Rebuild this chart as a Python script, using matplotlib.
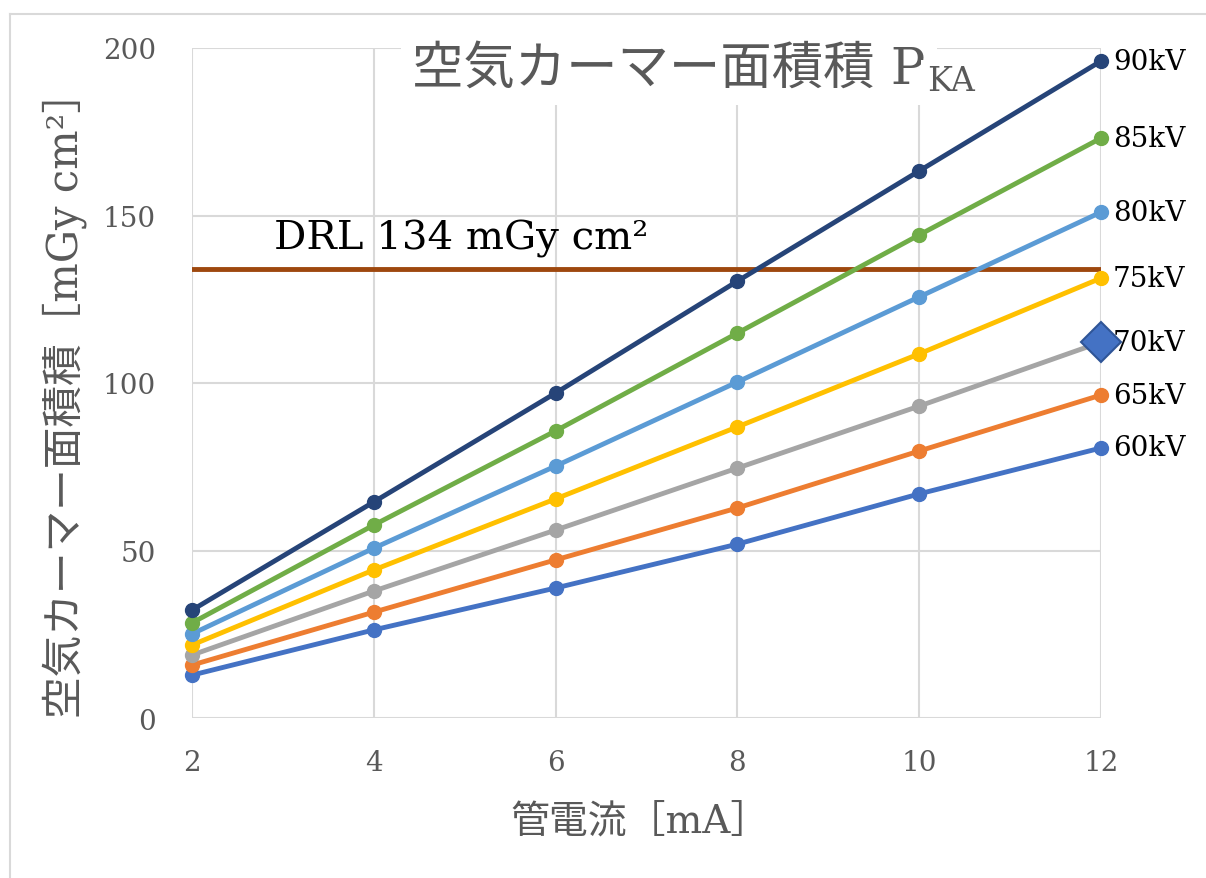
import numpy as np
import matplotlib.pyplot as plt
from matplotlib.lines import Line2D
from matplotlib.text import Annotation

plt.rcParams['font.family'] = ['DejaVu Serif', 'Noto Sans CJK JP']

current_mA = [2, 4, 6, 8, 10, 12]
kv_labels = ['60kV', '65kV', '70kV', '75kV', '80kV', '85kV', '90kV']
pka_60 = [12.8, 26.3, 38.8, 51.9, 66.9, 80.6]
pka_65 = [15.8, 31.6, 47.2, 62.7, 79.7, 96.4]
pka_70 = [18.8, 37.9, 56.1, 74.6, 93.1, 112.2]
pka_75 = [21.8, 44.2, 65.4, 86.9, 108.7, 131.3]
pka_80 = [25.1, 50.7, 75.2, 100.3, 125.7, 151.0]
pka_85 = [28.4, 57.6, 85.7, 114.9, 144.2, 173.1]
pka_90 = [32.2, 64.5, 97.0, 130.4, 163.3, 196.1]
drl = 134

series = [pka_60, pka_65, pka_70, pka_75, pka_80, pka_85, pka_90]
colors = ['#4472C4', '#ED7D31', '#A5A5A5', '#FFC000', '#5B9BD5', '#70AD47', '#264478']
gray = '#595959'

fig = plt.figure(figsize=(12.06, 8.79), dpi=100)
ax = fig.add_axes([192/1206, 1-719/879, (1101-192)/1206, (719-49)/879])

# chart area border (left and top only)
bx, by = 10/1206, 1-15/879
fig.add_artist(Line2D([bx, bx], [0, by], transform=fig.transFigure, color='#D9D9D9', lw=1.5))
fig.add_artist(Line2D([bx, 1], [by, by], transform=fig.transFigure, color='#D9D9D9', lw=1.5))

for vals, c in zip(series, colors):
    ax.plot(current_mA, vals, color=c, lw=3.5, marker='o', ms=10,
            clip_on=False, zorder=3)

# highlighted end point of 70kV
ax.plot(current_mA[-1], pka_70[-1], marker='D', ms=20, color='#4472C4',
        mec='#2F5597', mew=1.5, clip_on=False, zorder=5)

ax.plot([current_mA[0], current_mA[-1]], [drl, drl], color='#9E480E', lw=3.5, zorder=2)
ax.text(2.9, 140, f'DRL {drl} mGy cm²', fontsize=29, color='black')

for vals, lab in zip(series, kv_labels):
    ax.text(12.13, vals[-1], lab, fontsize=20, color='black', va='center', ha='left')

ax.set_xlim(2, 12)
ax.set_ylim(0, 200)
ax.set_xticks(current_mA)
ax.set_yticks(np.arange(0, 201, 50))
ax.grid(True, color='#D9D9D9', lw=1.5)
ax.set_axisbelow(True)
for s in ax.spines.values():
    s.set_visible(False)
ax.tick_params(length=0, labelsize=20, labelcolor=gray)
ax.tick_params(axis='x', pad=22)
ax.tick_params(axis='y', pad=26)

fig.text(640/1206, 1-822/879, '管電流［mA］', fontsize=28, color=gray,
         ha='center', va='center')
fig.text(65/1206, 1-395/879, '空気カーマー面積積［mGy cm²］', fontsize=30, color=gray,
         ha='center', va='center', rotation=90)

title = fig.text(412/1206, 1-70/879, '空気カーマー面積積 P', fontsize=37,
                 color=gray, ha='left', va='center', zorder=4,
                 bbox=dict(facecolor='white', edgecolor='none', pad=8))
sub = Annotation('KA', xy=(1, 0), xycoords=title, xytext=(1, 9), textcoords='offset points',
                 fontsize=24, color=gray, ha='left', va='center', zorder=10,
                 bbox=dict(facecolor='white', edgecolor='none', pad=4))
fig.add_artist(sub)
fig.savefig('out.png', dpi=100)
